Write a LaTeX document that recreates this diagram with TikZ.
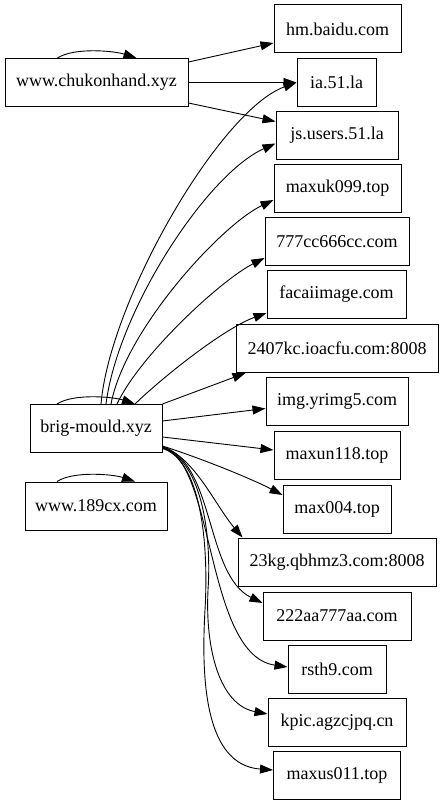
\documentclass[tikz,border=0pt]{standalone}
\usepackage{fontspec}
\setmainfont{Liberation Serif}
\usetikzlibrary{arrows.meta,calc}
\begin{document}
\begin{tikzpicture}[x=1pt,y=-1pt,
  box/.style={draw, line width=1pt, minimum height=48pt, inner sep=0pt, font=\fontsize{18}{21}\selectfont},
  edge/.style={line width=0.9pt, -{Triangle[length=13pt,width=9pt]}}]
\useasboundingbox (0,0) rectangle (444,805);
% nodes
\node[box, minimum width=183pt] (cw) at (96.5,82.5) {www.chukonhand.xyz};
\node[box, minimum width=127pt] (hm) at (337.5,29) {hm.baidu.com};
\node[box, minimum width=79pt] (ia) at (336.5,82.5) {ia.51.la};
\node[box, minimum width=122pt] (js) at (337,135.5) {js.users.51.la};
\node[box, minimum width=127pt] (mxk) at (337.5,188.5) {maxuk099.top};
\node[box, minimum width=144pt] (c777) at (337,241.5) {777cc666cc.com};
\node[box, minimum width=139pt] (fac) at (336.5,294.5) {facaiimage.com};
\node[box, minimum width=202pt] (k2407) at (337,348.5) {2407kc.ioacfu.com:8008};
\node[box, minimum width=142pt] (img) at (337,401.5) {img.yrimg5.com};
\node[box, minimum width=126pt] (mxn) at (337,455.5) {maxun118.top};
\node[box, minimum width=108pt] (m004) at (337,509) {max004.top};
\node[box, minimum width=198pt] (q23) at (337,562) {23kg.qbhmz3.com:8008};
\node[box, minimum width=148pt] (aa222) at (337,616) {222aa777aa.com};
\node[box, minimum width=98pt] (rs) at (337,669) {rsth9.com};
\node[box, minimum width=138pt] (kp) at (337,722) {kpic.agzcjpq.cn};
\node[box, minimum width=127pt] (mxs) at (337,775.5) {maxus011.top};
\node[box, minimum width=132pt] (bm) at (96,428.5) {brig-mould.xyz};
\node[box, minimum width=142pt] (c189) at (96,506) {www.189cx.com};
% self loops
\draw[edge] ($(cw.north)+(-39,0)$) .. controls ($(cw.north)+(-22,-11)$) and ($(cw.north)+(18,-7)$) .. ($(cw.north)+(40,0)$);
\draw[edge] ($(bm.north)+(-39,0)$) .. controls ($(bm.north)+(-22,-11)$) and ($(bm.north)+(18,-7)$) .. ($(bm.north)+(39,0)$);
\draw[edge] ($(c189.north)+(-39,0)$) .. controls ($(c189.north)+(-22,-11)$) and ($(c189.north)+(18,-7)$) .. ($(c189.north)+(39,0)$);
% chukonhand edges
\draw[edge] ($(cw.east)+(0,-20.5)$) -- ($(hm.west)+(0,14)$);
\draw[edge] (cw.east) -- (ia.west);
\draw[edge] ($(cw.east)+(0,20.5)$) -- ($(js.west)+(0,-14)$);
% brig-mould upward edges
\draw[edge] ($(bm.north)+(5,0)$) .. controls (110,300) and (220,110) .. (ia.west);
\draw[edge] ($(bm.north)+(10,0)$) .. controls (118,310) and (207,174) .. ($(js.west)+(0,8)$);
\draw[edge] ($(bm.north)+(15,0)$) .. controls (125,330) and (221,225) .. ($(mxk.west)+(0,11.5)$);
\draw[edge] ($(bm.north)+(21,0)$) .. controls (140,355) and (221,280) .. ($(c777.west)+(0,16.5)$);
\draw[edge] ($(bm.north)+(39,0)$) .. controls (165,375) and (225,328) .. ($(fac.west)+(0,18.5)$);
% brig-mould rightward edges
\draw[edge] (bm.north east) -- ($(k2407.south west)+(10,0)$);
\draw[edge] ($(bm.east)+(0,-7.5)$) -- ($(img.west)+(0,7)$);
\draw[edge] ($(bm.east)+(0,8.5)$) -- ($(mxn.west)+(0,-5.5)$);
\draw[edge] ($(bm.east)+(0,17.5)$) .. controls (200,458) and (250,478) .. ($(m004.west)+(0,-14)$);
% brig-mould downward bundle
\draw[edge] ($(bm.east)+(0,18)$) .. controls (195,458) and (215,505) .. ($(q23.north west)+(5,0)$);
\draw[edge] ($(bm.east)+(0,18.5)$) .. controls (215,462) and (205,575) .. ($(aa222.west)+(0,-13)$);
\draw[edge] ($(bm.east)+(0,19)$) .. controls (215,460) and (205,655) .. ($(rs.west)+(0,-2)$);
\draw[edge] ($(bm.east)+(0,19.5)$) .. controls (200,459) and (212,530) .. (208,590) .. controls (205,650) and (220,705) .. ($(kp.west)+(0,-8)$);
\draw[edge] ($(bm.east)+(0,20)$) .. controls (200,460) and (209,540) .. (205,610) .. controls (201,680) and (205,765) .. ($(mxs.west)+(0,-5.5)$);
\end{tikzpicture}
\end{document}
